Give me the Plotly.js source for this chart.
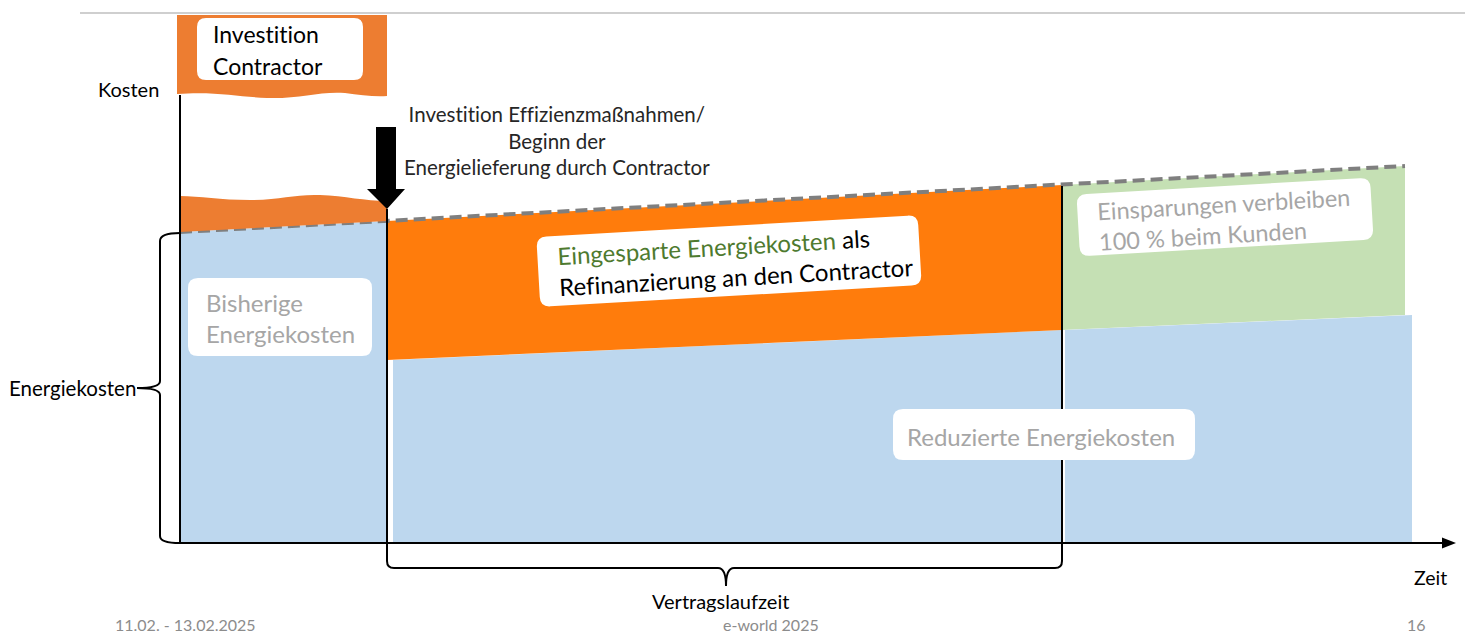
<!DOCTYPE html>
<html><head><meta charset="utf-8">
<script src="https://cdn.plot.ly/plotly-3.0.1.min.js"></script>
<style>html,body{margin:0;padding:0;background:#fff}#chart{width:1465px;height:635px}
svg text{font-variant-ligatures:none;font-feature-settings:"liga" 0}</style>
</head><body><div id="chart"></div>
<script>
// ---- Daten (Zeit- und Kostenwerte in Diagrammeinheiten) ----
const phasenNamen = ['Beginn', 'Start Contracting', 'Vertragsende', 'Betrachtungsende'];
const phasenZeit = [0, 207, 882, 1225];
const bisherigeKosten = [311, 322, 358, 377];
const reduzierteZeit = [207, 882, 1232];
const reduzierteKosten = [183, 213, 228];
const investitionZeit = [0, 207];

// ---- Pixel helpers for decorations (axes map 1 unit = 1 px) ----
const X0 = 180, Y0 = 543;
const X = p => p - X0;
const Y = p => Y0 - p;
const FONT = 'Lato, "Liberation Sans", sans-serif';
const GRAY = '#A6A6A6';

function pathFromPx(cmds) {
  return cmds.map(c => {
    const L = c[0]; const nums = c.slice(1);
    const out = [];
    for (let i = 0; i < nums.length; i += 2) out.push(X(nums[i]) + ',' + Y(nums[i + 1]));
    return L + out.join(' ');
  }).join(' ');
}
function roundRect(cx, cy, w, h, r, deg) {
  const a = deg * Math.PI / 180, ca = Math.cos(a), sa = Math.sin(a);
  const P = (x, y) => [cx + x * ca - y * sa, cy + x * sa + y * ca];
  const hw = w / 2, hh = h / 2;
  const cmds = [
    ['M', ...P(-hw + r, -hh)], ['L', ...P(hw - r, -hh)], ['Q', ...P(hw, -hh), ...P(hw, -hh + r)],
    ['L', ...P(hw, hh - r)], ['Q', ...P(hw, hh), ...P(hw - r, hh)],
    ['L', ...P(-hw + r, hh)], ['Q', ...P(-hw, hh), ...P(-hw, hh - r)],
    ['L', ...P(-hw, -hh + r)], ['Q', ...P(-hw, -hh), ...P(-hw + r, -hh)]
  ];
  return pathFromPx(cmds) + ' Z';
}

const z = phasenZeit, b = bisherigeKosten, rt = reduzierteZeit, rk = reduzierteKosten;
const area = (xs, ys, color) => ({
  type: 'scatter', mode: 'lines', x: xs, y: ys, fill: 'toself', fillcolor: color,
  line: { width: 0, color: color }, hoverinfo: 'skip', showlegend: false
});

const traces = [
  area([z[0], z[0], z[1], z[1]], [0, b[0], b[1], 0], '#BDD7EE'),
  area([rt[0] + 6, rt[0] + 6, rt[1], rt[1]], [0, rk[0], rk[1], 0], '#BDD7EE'),
  area([z[1], z[2], rt[1], rt[0]], [b[1], b[2], rk[1], rk[0]], '#FF7C0C'),
  area([z[2], z[3], z[3], z[2]], [b[2], b[3], rk[2], rk[1]], '#C5E0B4'),
  area([rt[1] + 3, rt[1] + 3, rt[2], rt[2]], [0, rk[1], rk[2], 0], '#BDD7EE'),
  { type: 'scatter', mode: 'lines', x: z, y: b, line: { color: '#7F7F7F', width: 4, dash: '12px,6px' },
    hoverinfo: 'skip', showlegend: false }
];

const it = investitionZeit;
const shapes = [
  { type: 'line', xref: 'x', yref: 'y', x0: X(80), x1: X(1465), y0: Y(13), y1: Y(13), line: { color: '#BFBFBF', width: 1.5 } },
  { type: 'path', xref: 'x', yref: 'y', fillcolor: '#ED7D31', line: { width: 0 },
    path: 'M' + it[0] + ',' + b[0] + ' L' + it[1] + ',' + b[1] + ' ' +
      pathFromPx([['L', 387, 201], ['C', 365, 201, 345, 196, 320, 195], ['C', 295, 194, 280, 200, 250, 200], ['C', 220, 200, 200, 196, 180, 196]]) + ' Z' },
  { type: 'path', xref: 'x', yref: 'y', fillcolor: '#ED7D31', line: { width: 0 },
    path: pathFromPx([['M', 177, 15], ['L', 387, 15], ['L', 387, 96], ['C', 375, 97, 360, 95, 345, 93], ['C', 320, 91, 300, 99, 267, 98], ['C', 240, 97, 215, 91, 177, 94]]) + ' Z' },
  { type: 'line', xref: 'x', yref: 'y', x0: 0, x1: 0, y0: Y(95), y1: 0, line: { color: '#000', width: 2 } },
  { type: 'line', xref: 'x', yref: 'y', x0: X(178), x1: X(1446), y0: 0, y1: 0, line: { color: '#000', width: 2 } },
  { type: 'path', xref: 'x', yref: 'y', fillcolor: '#000', line: { width: 0 },
    path: pathFromPx([['M', 1442, 537.5], ['L', 1456, 543], ['L', 1442, 548.5]]) + ' Z' },
  { type: 'path', xref: 'x', yref: 'y', fillcolor: '#000', line: { width: 0 },
    path: pathFromPx([['M', 376, 127], ['L', 396, 127], ['L', 396, 189], ['L', 405, 189], ['L', 387, 209], ['L', 367, 189], ['L', 376, 189]]) + ' Z' },
  { type: 'path', xref: 'x', yref: 'y', line: { color: '#000', width: 2 },
    path: pathFromPx([['M', 387, 209], ['L', 387, 561], ['Q', 387, 568, 394, 568], ['L', 718, 568],
      ['Q', 726, 568, 726, 586], ['Q', 726, 568, 734, 568], ['L', 1055, 568], ['Q', 1062, 568, 1062, 561], ['L', 1062, 186]]) },
  { type: 'path', xref: 'x', yref: 'y', line: { color: '#000', width: 2 },
    path: pathFromPx([['M', 180, 233], ['Q', 160, 233, 160, 241], ['L', 160, 381], ['Q', 160, 388, 137, 388],
      ['Q', 160, 388, 160, 395], ['L', 160, 536], ['Q', 160, 543, 180, 543]]) },
  { type: 'path', xref: 'x', yref: 'y', fillcolor: '#FFFFFF', line: { width: 0 }, path: roundRect(280, 49, 166, 62, 9, 0) },
  { type: 'path', xref: 'x', yref: 'y', fillcolor: '#FFFFFF', line: { width: 0 }, path: roundRect(280, 317, 184, 78, 10, 0) },
  { type: 'path', xref: 'x', yref: 'y', fillcolor: '#FFFFFF', line: { width: 0 }, path: roundRect(729, 261, 382, 70, 10, -3.3) },
  { type: 'path', xref: 'x', yref: 'y', fillcolor: '#FFFFFF', line: { width: 0 }, path: roundRect(1225, 217, 294, 62, 10, -3.3) },
  { type: 'path', xref: 'x', yref: 'y', fillcolor: '#FFFFFF', line: { width: 0 }, path: roundRect(1044, 434.5, 302, 51, 10, 0) }
];

const txt = (s, px, py, size, color, xanchor, extra) => Object.assign({
  text: s, xref: 'x', yref: 'y', x: X(px), y: Y(py), showarrow: false,
  xanchor: xanchor || 'left', yanchor: 'middle', font: { family: FONT, size: size, color: color }
}, extra || {});

const annotations = [
  txt('Kosten', 96, 89, 20, '#000'),
  txt('Investition', 211, 34, 23, '#000'),
  txt('Contractor', 211, 66, 23, '#000'),
  txt('Investition Effizienzmaßnahmen/<br>Beginn der<br>Energielieferung durch Contractor', 557, 140, 20.5, '#262626', 'center', { align: 'center' }),
  txt('Bisherige', 204, 302, 24, GRAY),
  txt('Energiekosten', 204, 333, 24, GRAY),
  txt('<span style="color:#4E7A2F">Eingesparte Energiekosten</span> als<br>Refinanzierung an den Contractor', 735, 261, 24, '#000', 'center', { align: 'left', textangle: -3.3 }),
  txt('Einsparungen verbleiben<br>100 % beim Kunden', 1224, 219, 23.5, GRAY, 'center', { align: 'left', textangle: -3.3 }),
  txt('Reduzierte Energiekosten', 1041, 436, 24, GRAY, 'center'),
  txt('Energiekosten', 7, 388, 20.5, '#000'),
  txt('Zeit', 1412, 577, 19.5, '#000'),
  txt('Vertragslaufzeit', 720, 601, 20, '#000', 'center', { borderpad: 0 }),
  txt('11.02. - 13.02.2025', 114, 624, 16, '#8C8C8C', 'left', { borderpad: 0 }),
  txt('e-world 2025', 771, 624, 16, '#8C8C8C', 'center', { borderpad: 0 }),
  txt('16', 1406, 624, 16, '#8C8C8C', 'left', { borderpad: 0 })
];

const layout = {
  width: 1465, height: 635, margin: { l: 0, r: 0, t: 0, b: 0 },
  paper_bgcolor: '#FFFFFF', plot_bgcolor: '#FFFFFF', showlegend: false,
  xaxis: { range: [X(0), X(1465)], visible: false, fixedrange: true },
  yaxis: { range: [Y(635), Y(0)], visible: false, fixedrange: true },
  shapes: shapes, annotations: annotations
};
Plotly.newPlot('chart', traces, layout, { staticPlot: true, displayModeBar: false });
</script></body></html>
